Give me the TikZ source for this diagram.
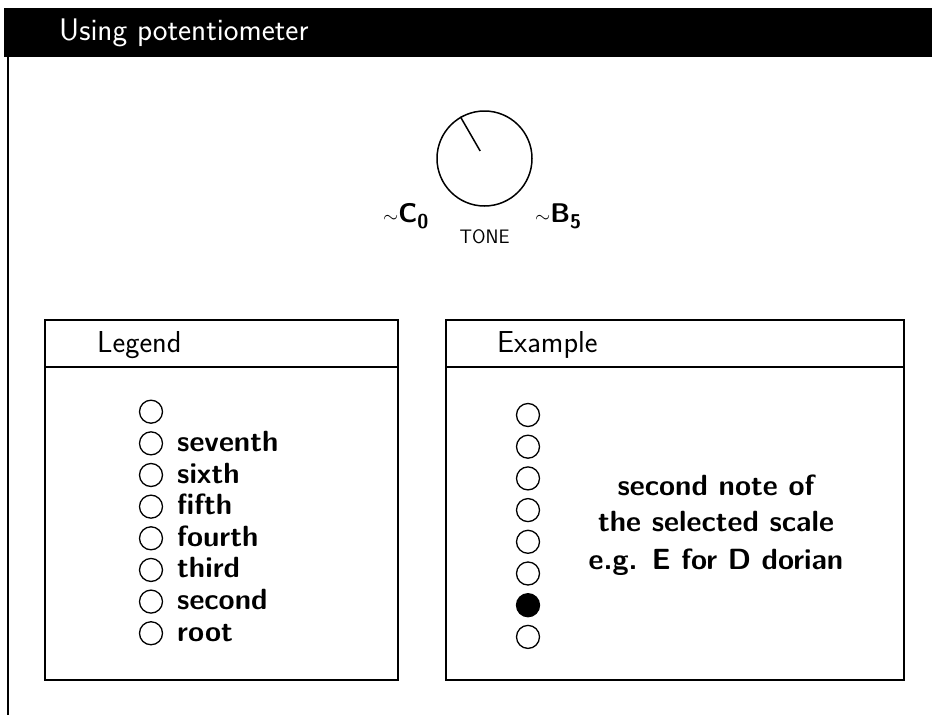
\RequirePackage{fix-cm}
\documentclass[tikz,border=0pt]{standalone}
\usepackage{fontspec}
\usetikzlibrary{calc}
\newcommand{\knoblabel}[2]{{\fontsize{19.5}{20}\selectfont$\sim$}#1\raisebox{-5.5pt}{\fontsize{20}{20}\selectfont #2}}
\begin{document}
\begin{tikzpicture}[x=1pt,y=-1pt,
  big/.style={font=\sffamily\fontsize{30.3}{34}\selectfont},
  bigb/.style={font=\sffamily\bfseries\fontsize{29.2}{34}\selectfont},
  dot/.style={circle,draw,line width=1.3pt,minimum size=23pt,inner sep=0pt},
  boxline/.style={line width=2.5pt},
  lbl/.style={bigb,anchor=base west,inner sep=0pt}]
\useasboundingbox (0,0) rectangle (932,715);
% title bar
\fill (4,8) rectangle (932,57);
\node[font=\sffamily\fontsize{31.2}{34}\selectfont,text=white,anchor=base west,inner sep=0pt] (title) at (59,40.5) {Using potentiometer};
\draw[line width=2pt] (8,57) -- (8,715);
% knob
\node[circle,draw,line width=1.5pt,minimum size=95pt,inner sep=0pt] (knob) at (484.5,158.5) {};
\draw[line width=1.5pt] ($(knob.center)!0.18!(knob.120)$) -- (knob.120);
\node[font=\sffamily\bfseries\fontsize{27}{28}\selectfont,inner sep=0pt,anchor=base west] (c0) at (383,222.5) {\knoblabel{C}{0}};
\node[font=\sffamily\bfseries\fontsize{27}{28}\selectfont,inner sep=0pt,anchor=base west] (b5) at (535,222.5) {\knoblabel{B}{5}};
\node[font=\sffamily\fontsize{19.5}{22}\selectfont,inner sep=0pt,anchor=base] (tone) at (484.5,243) {TONE};
% legend box
\draw[boxline] (45,320) rectangle (398,680);
\draw[boxline] (45,367) -- (398,367);
\node[big,anchor=base west,inner sep=0pt] (legend) at (97,352) {Legend};
\foreach \i/\t in {0/{},1/seventh,2/sixth,3/fifth,4/fourth,5/third,6/second,7/root}{
  \node[dot] (l\i) at (151,411.7+31.65*\i) {};
  \node[lbl] (lt\i) at (177,419.7+31.65*\i) {\t};
}
% example box
\draw[boxline] (446,320) rectangle (904,680);
\draw[boxline] (446,367) -- (904,367);
\node[big,anchor=base west,inner sep=0pt] (example) at (497,352) {Example};
\foreach \i in {0,...,7}{
  \node[dot] (e\i) at (528,415+31.7*\i) {};
}
\fill (e6.center) circle (11.5pt);
\node[bigb,anchor=base,inner sep=0pt] (ex1) at (716,495) {second note of};
\node[bigb,anchor=base,inner sep=0pt] (ex2) at (716,531.7) {the selected scale};
\node[bigb,anchor=base,inner sep=0pt] (ex3) at (716,569) {e.g. E for D dorian};
\end{tikzpicture}
\end{document}
